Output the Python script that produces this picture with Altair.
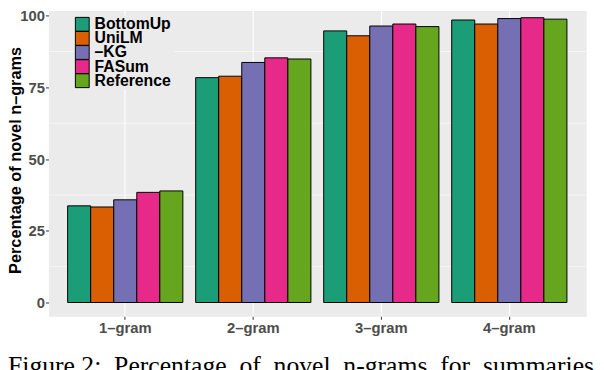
import altair as alt
import pandas as pd

categories = ["1–gram", "2–gram", "3–gram", "4–gram"]
systems = ["BottomUp", "UniLM", "–KG", "FASum", "Reference"]
colors = ["#1B9E77", "#D95F02", "#7570B3", "#E7298A", "#66A61E"]
bottomup = [33.7, 78.4, 94.7, 98.5]
unilm = [33.3, 78.9, 93.0, 97.1]
kg = [35.8, 83.7, 96.4, 99.0]
fasum = [38.4, 85.3, 97.1, 99.3]
reference = [38.9, 84.9, 96.2, 98.8]
y_ticks = [0, 25, 50, 75, 100]
y_minor = [12.5, 37.5, 62.5, 87.5]
y_title = "Percentage of novel n–grams"
caption = "Figure 2:\u2002Percentage\u2002of\u2002novel\u2002n-grams\u2002for\u2002summaries"

rows = []
for sysname, vals in zip(systems, [bottomup, unilm, kg, fasum, reference]):
    for cat, v in zip(categories, vals):
        rows.append({"ngram": cat, "system": sysname, "pct": v})
df = pd.DataFrame(rows)
legend_df = pd.DataFrame({"system": systems})

yscale = alt.Scale(domain=[-4.82, 101.82], nice=False, zero=False)
color_scale = alt.Scale(domain=systems, range=colors)
legend_y = alt.Y(
    "system:N",
    sort=systems,
    scale=alt.Scale(type="point", padding=0, range=[14, 71.2]),
    axis=None,
)


def y_axis():
    return alt.Axis(
        values=y_ticks,
        title=y_title,
        titleFont="Liberation Sans",
        titleFontSize=16.5,
        titleFontWeight="bold",
        titleColor="black",
        titleX=-25,
        titleY=151.5,
        titleAlign="center",
        titleBaseline="bottom",
        labelPadding=1,
    )


minor = alt.Chart(pd.DataFrame({"pct": y_minor})).mark_rule(
    color="white", strokeWidth=0.6
).encode(y=alt.Y("pct:Q", scale=yscale, axis=None))

bars = alt.Chart(df).mark_bar(stroke="black", strokeWidth=1).encode(
    x=alt.X(
        "ngram:N",
        sort=categories,
        scale=alt.Scale(paddingInner=0.1, paddingOuter=0.15),
        axis=alt.Axis(
            title=None, labelAngle=0, bandPosition=0.5, grid=True,
            labelPadding=1,
        ),
    ),
    xOffset=alt.XOffset(
        "system:N", sort=systems, scale=alt.Scale(paddingInner=0, paddingOuter=0)
    ),
    y=alt.Y("pct:Q", scale=yscale, axis=y_axis()),
    y2=alt.datum(0),
    color=alt.Color("system:N", sort=systems, scale=color_scale, legend=None),
)

legend_bg = alt.Chart(pd.DataFrame({"a": [0]})).mark_rect(
    fill="#EBEBEB"
).encode(
    x=alt.value(26), x2=alt.value(127), y=alt.value(5), y2=alt.value(80)
)

legend_keys = alt.Chart(legend_df).mark_square(
    size=196, stroke="black", strokeWidth=1, opacity=1
).encode(
    x=alt.value(34.3),
    y=legend_y,
    color=alt.Color("system:N", sort=systems, scale=color_scale, legend=None),
)

legend_labels = alt.Chart(legend_df).mark_text(
    align="left",
    baseline="middle",
    font="Liberation Sans",
    fontSize=16,
    fontWeight="bold",
    color="black",
).encode(
    x=alt.value(46.7),
    y=legend_y,
    text="system:N",
)

chart = alt.layer(
    minor, bars, legend_bg, legend_keys, legend_labels
).resolve_scale(
    y="independent"
).properties(
    width=545,
    height=310,
    autosize=alt.AutoSizeParams(type="none"),
    padding={"left": 41, "top": 0, "right": 10, "bottom": 60},
    title=alt.TitleParams(
        caption,
        orient="bottom",
        anchor="start",
        frame="bounds",
        font="Liberation Serif",
        fontSize=26,
        fontWeight="normal",
        color="black",
        offset=18,
    ),
).configure_view(
    fill="#EBEBEB", stroke="transparent"
).configure_axis(
    domain=False,
    tickColor="#333333",
    tickWidth=1,
    tickSize=3,
    labelColor="#4D4D4D",
    labelFont="Liberation Sans",
    labelFontSize=15,
    labelFontWeight="bold",
    gridColor="white",
    gridWidth=1.1,
)

chart.save("out.html", embed_options={"renderer": "svg", "actions": False})
